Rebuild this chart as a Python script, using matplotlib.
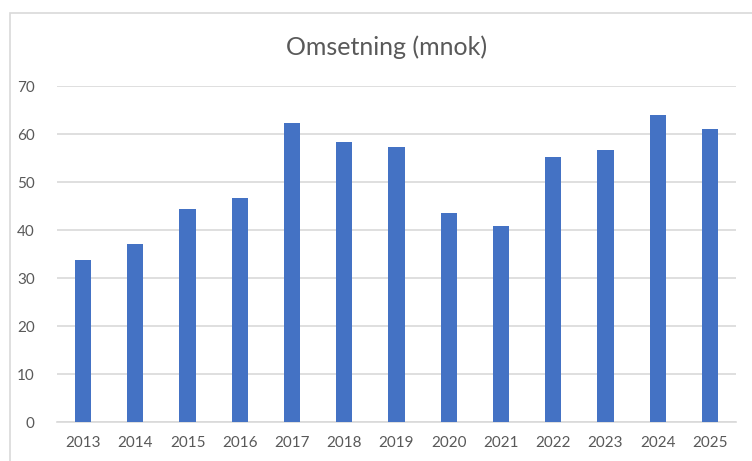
import matplotlib.pyplot as plt
from matplotlib.patches import Rectangle

# Data
years = ['2013', '2014', '2015', '2016', '2017', '2018', '2019',
         '2020', '2021', '2022', '2023', '2024', '2025']
omsetning = [33.8, 37.1, 44.3, 46.6, 62.2, 58.3, 57.3,
             43.6, 40.9, 55.3, 56.7, 64.0, 61.1]
y_ticks = [0, 10, 20, 30, 40, 50, 60, 70]

bar_color = '#4472C4'
grid_color = '#D9D9D9'
text_color = '#595959'

plt.rcParams['font.family'] = ['Lato', 'DejaVu Sans']

fig = plt.figure(figsize=(7.52, 4.61), dpi=100)
ax = fig.add_axes([0.0758, 0.0839, 0.9029, 0.7295])

# chart area border (cropped at right/bottom in the reference)
fig.patches.append(Rectangle((10 / 752, -0.05), 1.0, 1 - 13 / 461 + 0.05,
                             transform=fig.transFigure, fill=False,
                             edgecolor=grid_color, linewidth=1.2))

x = range(len(years))
ax.bar(x, omsetning, width=0.31, color=bar_color, zorder=3)

ax.set_xlim(-0.5, len(years) - 0.5)
ax.set_ylim(0, 70)
ax.set_yticks(y_ticks)
ax.set_xticks(list(x))
ax.set_xticklabels(years)

ax.grid(axis='y', color=grid_color, linewidth=1.2, zorder=0)
for side in ['top', 'right', 'left']:
    ax.spines[side].set_visible(False)
ax.spines['bottom'].set_color(grid_color)
ax.spines['bottom'].set_linewidth(1.2)
ax.tick_params(axis='both', length=0, labelsize=11, labelcolor=text_color)
ax.tick_params(axis='y', pad=16)
ax.tick_params(axis='x', pad=10)

fig.text(387 / 752, 1 - 47 / 461, 'Omsetning (mnok)', ha='center', va='center',
         fontsize=18, color=text_color)

fig.savefig('out.png', dpi=100)
